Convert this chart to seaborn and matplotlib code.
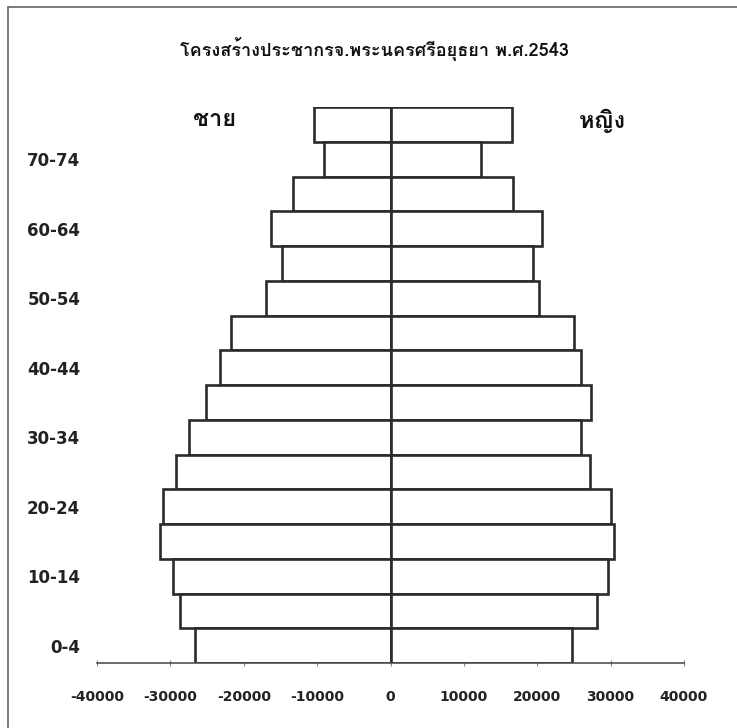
import matplotlib
matplotlib.use("Agg")
import matplotlib.pyplot as plt
from matplotlib import font_manager
from matplotlib.lines import Line2D
import seaborn as sns
import pandas as pd

# ---- data ----
ages = ["0-4", "5-9", "10-14", "15-19", "20-24", "25-29", "30-34", "35-39",
        "40-44", "45-49", "50-54", "55-59", "60-64", "65-69", "70-74", "75+"]
male = [26700, 28650, 29650, 31450, 31000, 29250, 27400, 25100,
        23300, 21800, 16900, 14730, 16270, 13270, 9000, 10450]
female = [24800, 28100, 29700, 30400, 30100, 27200, 26000, 27300,
          25900, 25000, 20200, 19470, 20650, 16700, 12280, 16500]
shown_labels = ["0-4", "10-14", "20-24", "30-34", "40-44", "50-54", "60-64", "70-74"]
xticks = [-40000, -30000, -20000, -10000, 0, 10000, 20000, 30000, 40000]
title = "โครงสร้างประชากรจ.พระนครศรีอยุธยา พ.ศ.2543"
male_label = "ชาย"
female_label = "หญิง"

# ---- find fonts with Thai glyphs ----
def find_thai_fonts():
    try:
        from fontTools.ttLib import TTFont
    except Exception:
        return []
    seen = set()
    found = []
    for f in font_manager.fontManager.ttflist:
        if f.fname in seen:
            continue
        seen.add(f.fname)
        try:
            tt = TTFont(f.fname, fontNumber=0, lazy=True)
            cmap = tt.getBestCmap()
            if cmap and 0x0E0A in cmap and 0x0E0D in cmap:
                w = f.weight if isinstance(f.weight, int) else 400
                found.append((f.fname, w, f.style, f.name))
        except Exception:
            continue
    return found

thai = find_thai_fonts()
def pick(target_weight):
    c = [t for t in thai if t[2] == "normal"] or thai
    if not c:
        return font_manager.FontProperties(family="DejaVu Sans")
    c.sort(key=lambda t: abs(t[1] - target_weight))
    return font_manager.FontProperties(fname=c[0][0])

thai_bold = pick(650)

sns.set_theme(style="white")
plt.rcParams["font.family"] = ["DejaVu Sans"]

W, H = 737, 728
fig = plt.figure(figsize=(W / 100, H / 100), dpi=100)
fig.patch.set_facecolor("white")

ax_left, ax_right = 97, 684
ax_top, ax_bottom = 107, 663
ax = fig.add_axes([ax_left / W, (H - ax_bottom) / H,
                   (ax_right - ax_left) / W, (ax_bottom - ax_top) / H])
ax.set_facecolor("white")

df = pd.DataFrame({"age": ages, "male": [-v for v in male], "female": female})
order = ages[::-1]
edge = "#2b2b2b"
lw = 1.9
sns.barplot(data=df, x="male", y="age", order=order, orient="h", color="white",
            saturation=1, edgecolor=edge, linewidth=lw, width=1.0, ax=ax)
sns.barplot(data=df, x="female", y="age", order=order, orient="h", color="white",
            saturation=1, edgecolor=edge, linewidth=lw, width=1.0, ax=ax)

ax.set_xlim(-40000, 40000)
ax.set_ylim(len(order) - 0.5, -0.5)
ax.set_xlabel("")
ax.set_ylabel("")

for s in ["top", "right", "left"]:
    ax.spines[s].set_visible(False)
ax.spines["bottom"].set_color("#444444")
ax.spines["bottom"].set_linewidth(1.1)

ax.set_xticks(xticks)
ax.set_xticklabels([str(t) for t in xticks], fontsize=10, fontweight="bold", color="#222222")
ax.tick_params(axis="x", direction="inout", length=5, width=0.8, color="#888888", pad=17, bottom=True)

ax.set_yticks(range(len(order)))
ax.set_yticklabels([a if a in shown_labels else "" for a in order],
                   fontsize=12, fontweight="bold", color="#222222")
ax.tick_params(axis="y", length=0, pad=12, left=False)

# title and side labels
fig.text(374 / W, 1 - 49 / H, title, fontproperties=thai_bold, fontsize=13,
         ha="center", va="center", color="#111111")
fig.text(215 / W, 1 - 119 / H, male_label, fontproperties=thai_bold, fontsize=17,
         ha="center", va="center", color="#111111")
fig.text(602 / W, 1 - 121 / H, female_label, fontproperties=thai_bold, fontsize=17,
         ha="center", va="center", color="#111111")

# outer frame (top and left edges of the scanned box)
fig.add_artist(Line2D([8 / W, 1.0], [1 - 7 / H, 1 - 7 / H], transform=fig.transFigure,
                      color="#666666", lw=1.2))
fig.add_artist(Line2D([8 / W, 8 / W], [0, 1 - 7 / H], transform=fig.transFigure,
                      color="#666666", lw=1.2))

fig.savefig("out.png", dpi=100, facecolor="white")
